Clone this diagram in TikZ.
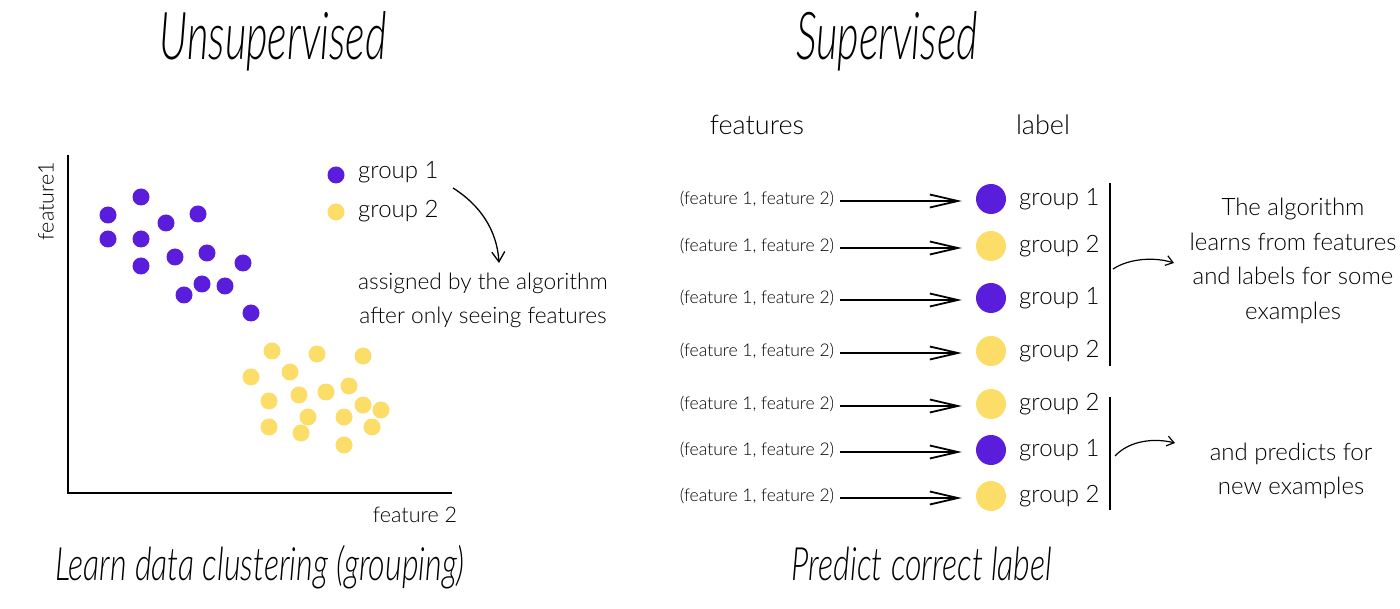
\documentclass[tikz,border=0pt]{standalone}
\usepackage{fontspec}
\setmainfont{Lato Light}
\newfontfamily\handfont{Lato Light}
\usepackage{tikz}
\usetikzlibrary{arrows.meta,positioning}
\definecolor{grpurple}{RGB}{89,29,219}
\definecolor{gryellow}{RGB}{252,221,104}

\begin{document}
\begin{tikzpicture}[x=1pt,y=-1pt,
  every node/.style={inner sep=0pt},
  pdot/.style={circle,fill=grpurple,minimum size=17pt},
  ydot/.style={circle,fill=gryellow,minimum size=17pt},
  rowdot/.style={circle,minimum size=30pt},
  txt/.style={font=\fontsize{24}{34.5}\selectfont},
  feat/.style={font=\fontsize{17.5}{20}\selectfont},
  hand/.style={font=\handfont\itshape\fontsize{66}{70}\selectfont,xscale=0.63},
  handsub/.style={font=\handfont\itshape\fontsize{46}{50}\selectfont,xscale=0.7},
  bigarrow/.style={line width=1.8pt,-{Straight Barb[length=28pt,width=13pt]}},
  curvearrow/.style={line width=1.2pt,-{Straight Barb[length=7pt,width=10pt]}}]
  \useasboundingbox[fill=white] (0,0) rectangle (1400,609);

  % titles
  \node[hand,anchor=base] (tunsup) at (273,60) {Unsupervised};
  \node[hand,anchor=base] (tsup) at (887,60) {Supervised};
  \node[handsub,anchor=base] (bunsup) at (260,580) {Learn data clustering (grouping)};
  \node[handsub,anchor=base] (bsup) at (922,580) {Predict correct label};

  % unsupervised plot
  \coordinate (ytop) at (68,155);
  \coordinate (origin) at (68,493);
  \coordinate (xend) at (452,493);
  \draw[line width=1.6pt] (ytop) -- (origin) -- (xend);
  \node[rotate=90,font=\fontsize{21.5}{24}\selectfont] (ylab) at (46,201) {feature1};
  \node[anchor=base,font=\fontsize{21.5}{24}\selectfont] (xlab) at (415,522) {feature 2};

  \foreach \x/\y [count=\i] in {108/215,141/197,166/223,198/214,108/239,141/239,175/257,
      207/253,243/263,141/266,202/284,225/286,184/295,251/313}
    \node[pdot] (p\i) at (\x,\y) {};
  \foreach \x/\y [count=\i] in {272/351,317/354,363/356,251/377,290/372,269/401,299/395,
      326/392,349/386,363/405,381/410,308/417,344/417,269/427,301/433,372/427,344/445}
    \node[ydot] (y\i) at (\x,\y) {};

  % legend
  \node[pdot] (lg1) at (336,175) {};
  \node[ydot] (lg2) at (336,212) {};
  \node[txt,anchor=base west] (lt1) at (358,179) {group 1};
  \node[txt,anchor=base west] (lt2) at (358,218) {group 2};
  \node[txt,align=center,font=\fontsize{22.7}{34}\selectfont] (assign) at (483,300)
    {assigned by the algorithm\\after only seeing features};
  \coordinate (lstart) at (453,188);
  \coordinate (lend) at (499,263);
  \draw[line width=1.3pt,-{Straight Barb[length=10pt,width=13pt]}]
    (lstart) .. controls (480,205) and (497,230) .. (lend);

  % supervised table
  \node[anchor=base,font=\fontsize{27}{30}\selectfont] (hfeat) at (757,135) {features};
  \node[anchor=base,font=\fontsize{27}{30}\selectfont] (hlab) at (1043,135) {label};
  \foreach \y/\c/\g [count=\i] in {199/grpurple/1,246/gryellow/2,298/grpurple/1,351/gryellow/2,
      404/gryellow/2,450/grpurple/1,496/gryellow/2}{
    \node[feat] (f\i) at (757,\y) {(feature 1, feature 2)};
    \node[rowdot,fill=\c] (d\i) at (991,\y) {};
    \node[txt,anchor=west] (g\i) at (1019,\y) {group \g};
    \draw[bigarrow] ([xshift=6pt,yshift=-2pt]f\i.east) -- ([xshift=-14pt,yshift=-2pt]d\i.west);
  }

  % brackets
  \coordinate (b1top) at (1110,183);
  \coordinate (b1bot) at (1110,366);
  \coordinate (b2top) at (1110,397);
  \coordinate (b2bot) at (1110,510);
  \draw[line width=1.6pt] (b1top) -- (b1bot);
  \draw[line width=1.6pt] (b2top) -- (b2bot);

  \node[txt,align=center] (learn) at (1293,261)
    {The algorithm\\learns from features\\and labels for some\\examples};
  \node[txt,align=center] (predict) at (1291,471) {and predicts for\\new examples};
  \coordinate (c1s) at (1113,269);
  \coordinate (c1e) at (1174,263);
  \coordinate (c2s) at (1115,456);
  \coordinate (c2e) at (1175,443);
  \draw[curvearrow] (c1s) .. controls (1130,258) and (1155,257) .. (c1e);
  \draw[curvearrow] (c2s) .. controls (1130,440) and (1155,438) .. (c2e);
\end{tikzpicture}
\end{document}
